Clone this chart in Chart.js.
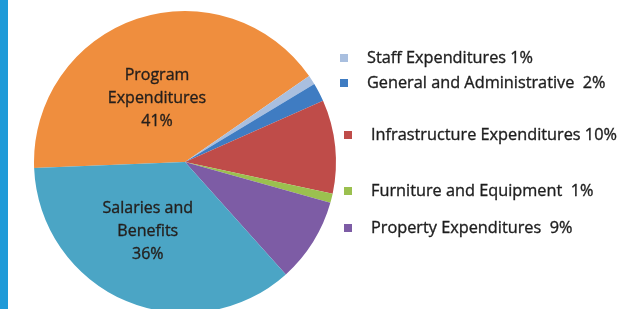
<!DOCTYPE html>
<html>
<head>
<meta charset="utf-8">
<script src="https://cdn.jsdelivr.net/npm/chart.js@4"></script>
<style>
  html, body { margin: 0; padding: 0; background: #fff; }
  body { width: 640px; height: 309px; overflow: hidden; position: relative; }
  #bar { position: absolute; left: 0; top: 0; width: 8px; height: 309px; background: #1e9ad8; }
  #wrap { position: absolute; left: 0; top: 0; width: 640px; height: 330px; }
</style>
</head>
<body>
<div id="wrap"><canvas id="pie" width="640" height="330"></canvas></div>
<div id="bar"></div>
<script>
// slices in clockwise order, starting from the left side
const labels = ['Program Expenditures', 'Staff Expenditures', 'General and Administrative',
                'Infrastructure Expenditures', 'Furniture and Equipment', 'Property Expenditures',
                'Salaries and Benefits'];
const values = [41, 1, 2, 10, 1, 9, 36];
const colors = ['#ef8e3e', '#a9bfdf', '#3f7cc2', '#bf4c49', '#9bc04f', '#7d5ca5', '#4ba5c5'];

// inside labels (multi line) for the two big slices
const insideLabels = { 0: ['Program', 'Expenditures', '41%'], 6: ['Salaries and', 'Benefits', '36%'] };
// legend entries, with the odd spacing of the original
const legendItems = [1, 2, 3, 4, 5];
const legendText = ['Staff Expenditures 1%', 'General and Administrative  2%',
                    'Infrastructure Expenditures 10%', 'Furniture and Equipment  1%',
                    'Property Expenditures  9%'];

const font = '"Open Sans", sans-serif';

function heavyText(ctx, t, x, y) {
    ctx.fillText(t, x, y);
    ctx.strokeText(t, x, y);
}

const labelPlugin = {
    id: 'labels',
    afterDatasetsDraw(chart) {
        const ctx = chart.ctx;
        const meta = chart.getDatasetMeta(0);
        const nudge = { 0: [-5, 5], 6: [-9, 3] };
        ctx.save();
        ctx.fillStyle = '#241f1c';
        ctx.strokeStyle = '#241f1c';
        ctx.lineWidth = 0.35;
        ctx.font = '16px ' + font;
        ctx.textAlign = 'center';
        ctx.textBaseline = 'middle';
        Object.keys(insideLabels).forEach(i => {
            const arc = meta.data[i];
            const mid = (arc.startAngle + arc.endAngle) / 2;
            const r = arc.outerRadius * 0.48;
            const x = arc.x + Math.cos(mid) * r + nudge[i][0];
            const y = arc.y + Math.sin(mid) * r + nudge[i][1];
            insideLabels[i].forEach((t, k) => heavyText(ctx, t, x, y + (k - 1) * 23));
        });

        // legend
        const rowY = [58, 83, 135, 191, 228];
        const boxX = [340, 340, 344, 344, 344];
        ctx.textAlign = 'left';
        ctx.font = '16.3px ' + font;
        legendItems.forEach((idx, k) => {
            ctx.fillStyle = colors[idx];
            ctx.fillRect(boxX[k], rowY[k] - 4, 8, 8);
            ctx.fillStyle = '#1e1e1e';
            ctx.strokeStyle = '#1e1e1e';
            heavyText(ctx, legendText[k], boxX[k] + 27, rowY[k]);
        });
        ctx.restore();
    }
};

new Chart(document.getElementById('pie').getContext('2d'), {
    type: 'pie',
    data: {
        labels: labels,
        datasets: [{
            data: values,
            backgroundColor: colors,
            borderWidth: 0
        }]
    },
    options: {
        responsive: false,
        animation: false,
        rotation: 267.7,
        layout: { padding: { left: 34, right: 304, top: 11, bottom: 17 } },
        plugins: {
            legend: { display: false },
            tooltip: { enabled: false }
        }
    },
    plugins: [labelPlugin]
});
</script>
</body>
</html>
